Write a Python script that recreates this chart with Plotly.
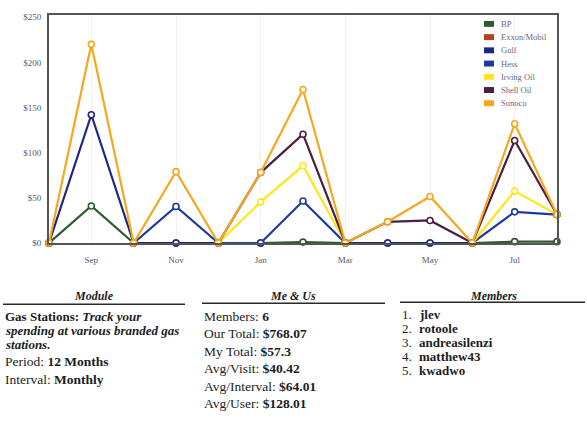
import plotly.graph_objects as go

# Monthly spending per station brand (stacked in legend order); None = no visits
months = ["Aug", "Sep", "Oct", "Nov", "Dec", "Jan", "Feb", "Mar", "Apr", "May", "Jun", "Jul", "Aug"]
tick_idx = [1, 3, 5, 7, 9, 11]

bp     = [0, 41, 0, 0, 0, 0, 1, 0, 0, 0, 0, 1.5, 1.5]
exxon  = [0, None, 0, None, 0, None, None, 0, None, None, 0, None, None]
gulf   = [0, 101, 0, 0, 0, 0, None, 0, 0, 0, 0, None, None]
hess   = [0, None, 0, 40.5, 0, 0, 45.5, 0, None, None, 0, 33, 30]
irving = [0, None, 0, None, 0, 45.5, 39, 0, None, None, 0, 23, 0]
shell  = [0, None, 0, None, 0, 32.5, 35, 0, 23.5, 25, 0, 56, 0]
sunoco = [0, 78, 0, 38.5, 0, 0, 49.5, 0, 0, 26.5, 0, 18.5, 0]

series_names = ["BP", "Exxon/Mobil", "Gulf", "Hess", "Irving Oil", "Shell Oil", "Sunoco"]
series_vals = [bp, exxon, gulf, hess, irving, shell, sunoco]
series_colors = ["#2f5a2c", "#b8401f", "#1c2784", "#1f3a9c", "#ffe61c", "#4b1e44", "#f5a81e"]

y_ticks = [0, 50, 100, 150, 200, 250]
y_tick_text = ["$0", "$50", "$100", "$150", "$200", "$250"]

module_lines = [
    "<b>Gas Stations: <i>Track your</i></b>",
    "<b><i>spending at various branded gas</i></b>",
    "<b><i>stations.</i></b>",
]
module_facts = [("Period:", "12 Months"), ("Interval:", "Monthly")]
stat_labels = ["Members:", "Our Total:", "My Total:", "Avg/Visit:", "Avg/Interval:", "Avg/User:"]
stat_values = ["6", "$768.07", "$57.3", "$40.42", "$64.01", "$128.01"]
members = ["jlev", "rotoole", "andreasilenzi", "matthew43", "kwadwo"]

SERIF = "Liberation Serif"
W, H = 587, 423
L, R, T, B = 49, 30, 12, 180
PW, PH = W - L - R, H - T - B


def px(x, y):
    """Pixel position on the page -> paper coordinates."""
    return (x - L) / PW, (H - B - y) / PH


fig = go.Figure()

# stacked lines: each series sits on the running total of those before it
base = [0.0] * len(months)
for name, vals, color in zip(series_names, series_vals, series_colors):
    ys = [None if v is None else b + v for b, v in zip(base, vals)]
    base = [b + (v or 0) for b, v in zip(base, vals)]
    fig.add_trace(go.Scatter(
        x=list(range(len(months))), y=ys, name=name, mode="lines+markers",
        connectgaps=False, cliponaxis=False,
        line=dict(color=color, width=2.2),
        marker=dict(symbol="circle", size=6, color="white",
                    line=dict(color=color, width=1.6)),
        hoverinfo="skip", showlegend=False,
    ))

fig.update_layout(
    width=W, height=H,
    margin=dict(l=L, r=R, t=T, b=B),
    paper_bgcolor="white", plot_bgcolor="white",
    font=dict(family=SERIF, color="#222"),
    showlegend=False,
    xaxis=dict(range=[0, len(months) - 1], tickvals=tick_idx,
               ticktext=[months[i] for i in tick_idx],
               showgrid=True, gridcolor="#eef1f6", gridwidth=1, zeroline=False,
               showline=True, mirror=True, linecolor="#555555", linewidth=1.8,
               ticks="outside", ticklen=7, tickcolor="rgba(0,0,0,0)",
               tickfont=dict(family=SERIF, size=9, color="#555b6c")),
    yaxis=dict(range=[0, 252.5], tickvals=y_ticks, ticktext=y_tick_text,
               showgrid=False, zeroline=False,
               showline=True, mirror=True, linecolor="#555555", linewidth=1.8,
               ticks="outside", ticklen=4, tickcolor="rgba(0,0,0,0)",
               tickfont=dict(family=SERIF, size=9, color="#555b6c")),
)

shapes = []
annotations = []

# legend: colour swatches with names, top right inside the plot
for i, (name, color) in enumerate(zip(series_names, series_colors)):
    cy = 21 + i * 13.4
    x0, y0 = px(484, cy - 3)
    x1, y1 = px(494, cy + 3)
    shapes.append(dict(type="rect", xref="paper", yref="paper",
                       x0=x0, x1=x1, y0=y1, y1=y0,
                       fillcolor=color, line=dict(width=0)))
    ax, ay = px(499, cy)
    annotations.append(dict(xref="paper", yref="paper", x=ax, y=ay,
                            xanchor="left", yanchor="middle", showarrow=False,
                            text=name, font=dict(family=SERIF, size=8.5, color="#6a6a78")))


def text(x, y, s, anchor="left", size=13.5, color="#1c1c24"):
    ax, ay = px(x, y)
    annotations.append(dict(xref="paper", yref="paper", x=ax, y=ay,
                            xanchor=anchor, yanchor="middle", showarrow=False,
                            text=s, font=dict(family=SERIF, size=size, color=color)))


def rule(x0, x1, y):
    a0, b0 = px(x0, y)
    a1, _ = px(x1, y)
    shapes.append(dict(type="line", xref="paper", yref="paper",
                       x0=a0, x1=a1, y0=b0, y1=b0,
                       line=dict(color="#2a2a2a", width=1.5)))


# column headers with rules
text(94, 297, "<b><i>Module</i></b>", anchor="center", size=12)
rule(3, 185, 305)
text(293, 297, "<b><i>Me &amp; Us</i></b>", anchor="center", size=12)
rule(202, 385, 304)
text(493, 297, "<b><i>Members</i></b>", anchor="center", size=12)
rule(400, 585, 303)

# module description
for k, line in enumerate(module_lines):
    text(3, 317 + k * 14.6, line, size=13)
for k, (lab, val) in enumerate(module_facts):
    text(3, 363 + k * 18, f"{lab} <b>{val}</b>")

# group statistics
for k, (lab, val) in enumerate(zip(stat_labels, stat_values)):
    text(202, 317 + k * 17.8, f"{lab} <b>{val}</b>")

# member list
for k, name in enumerate(members):
    y = 315 + k * 14.3
    text(400, y, f"{k + 1}.", size=13)
    text(417, y, f"<b>{name}</b>", size=13)

fig.update_layout(shapes=shapes, annotations=annotations)
fig.write_html("out.html")
